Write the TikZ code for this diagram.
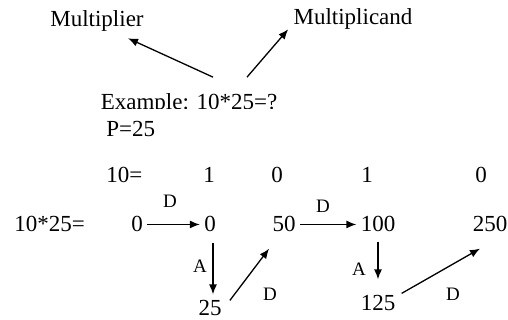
\documentclass[tikz,border=0pt]{standalone}
\usepackage{fontspec}
\setmainfont{Liberation Serif}
\usetikzlibrary{arrows.meta,calc}

\begin{document}
\begin{tikzpicture}[
    x=0.5pt, y=-0.5pt,
    txt/.style={inner sep=0pt, anchor=base, font=\fontsize{11.5}{13}\selectfont},
    num/.style={inner sep=2pt, anchor=base, font=\fontsize{11.5}{13}\selectfont},
    op/.style={inner sep=0pt, anchor=base, font=\fontsize{9.5}{11}\selectfont},
    arrow/.style={-{Latex[length=5pt,width=4pt]}, line width=0.65pt}
]
\useasboundingbox (0,0) rectangle (508,320);

% Top labels
\node (mult) [txt] at (97,27) {Multiplier};
\node (mcand) [txt] at (353,25) {Multiplicand};

% Example line (cut at the bottom)
\begin{scope}
\clip (0,0) rectangle (508,108.5);
\node (ex) [txt] at (189,109.5) {Example: 10*25=?};
\end{scope}
\node (p) [txt, anchor=base west] at (106,137) {P=25};

% Multiplier bits
\node (ten) [txt, anchor=base west] at (106,183) {10=};
\foreach \x/\b [count=\i] in {209/1,277/0,367/1,481/0}
    \node (b\i) [txt] at (\x,183) {\b};

% Partial results
\node (prod) [txt, anchor=base west] at (14,232) {10*25=};
\node (s0) [num] at (137,232) {0};
\node (s1) [num] at (210,232) {0};
\node (s2) [num] at (284,232) {50};
\node (s3) [num] at (378,232) {100};
\node (s4) [num] at (490,232) {250};
\node (a1) [num] at (210,315) {25};
\node (a2) [num] at (378,310) {125};

% Operation labels
\node (d1) [op] at (170,207) {D};
\node (d2) [op] at (323,213) {D};
\node (ad1) [op] at (200,272) {A};
\node (ad2) [op] at (359,275) {A};
\node (d3) [op] at (270,300) {D};
\node (d4) [op] at (453,300) {D};

% Arrows
\draw [arrow] ($(ex.north)+(24,-16)$) -- ($(mult.south)+(31,6)$);
\draw [arrow] ($(ex.north)+(58,-16)$) -- ($(mcand.south west)+(-5,-1)$);

\draw [arrow] (s0) -- (s1);
\draw [arrow] (s2) -- (s3);
\draw [arrow] ($(s1.south)+(3,6)$) -- ($(a1.north)+(3,-1)$);
\draw [arrow] ($(s3.south)+(0,5)$) -- ($(a2.north)+(0,-11)$);
\draw [arrow] ($(a1.north east)+(4,5)$) -- ($(s2.south west)+(1,12)$);
\draw [arrow] ($(a2.north east)+(2,3)$) -- ($(s4.south)+(-10,12)$);

\end{tikzpicture}
\end{document}
